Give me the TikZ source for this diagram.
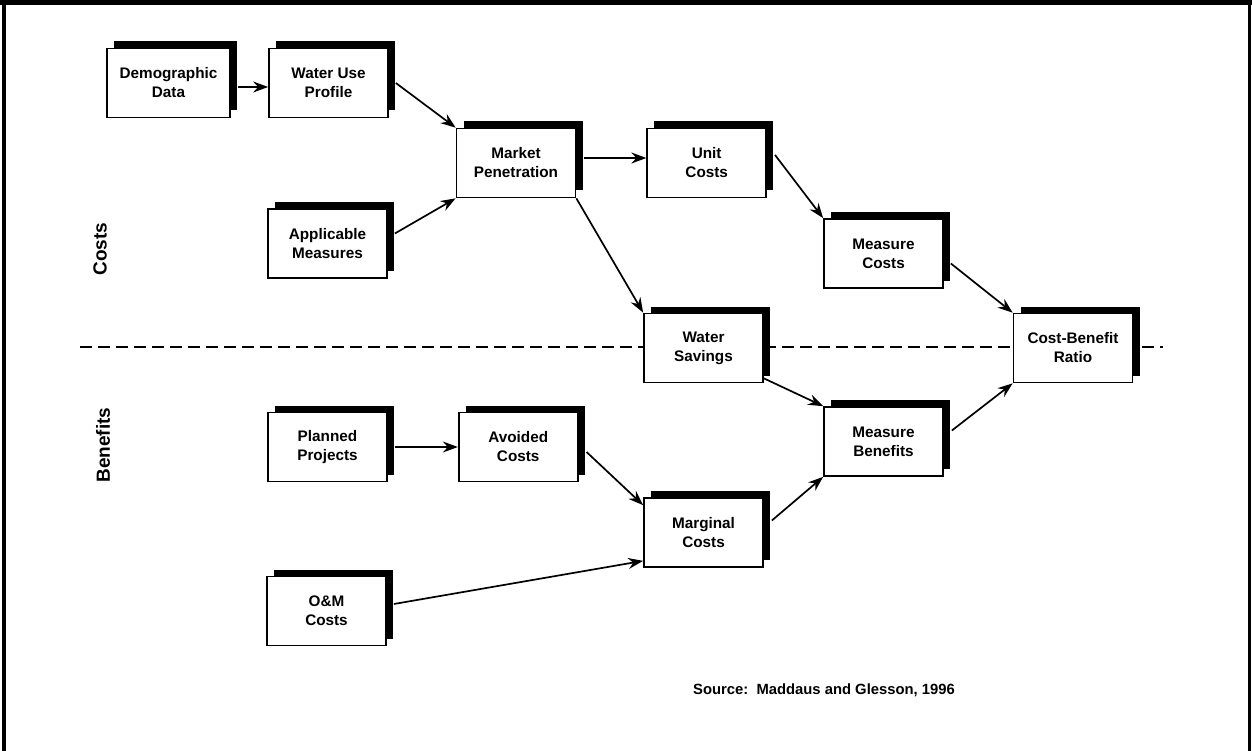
\documentclass[tikz,border=0pt]{standalone}
\usepackage{fontspec}
\setmainfont{Liberation Sans}
\usetikzlibrary{positioning,arrows.meta,shadows}

\begin{document}
\begin{tikzpicture}[x=1pt, y=-1pt, node distance=39pt and 70pt, line width=1.7pt,
    box/.style={draw, fill=white, minimum width=119pt, minimum height=69pt, inner sep=2pt,
    align=center, font=\fontsize{15.3}{19}\selectfont\bfseries,
    drop shadow={fill=black, opacity=1, shadow xshift=7pt, shadow yshift=7pt}},
    side/.style={rotate=90, font=\fontsize{19}{22}\selectfont\bfseries},
    >={Stealth[length=15pt, width=11pt, inset=5pt]}]
    \useasboundingbox (0,0) rectangle (1252,751);
    % frame and the costs/benefits divide
    \fill (0,0) rectangle (1252,5); \fill (2,0) rectangle (6,751); \fill (1248,0) rectangle (1251,751);
    \draw[line width=2pt, dash pattern=on 12pt off 6pt] (80,347) -- (1163,347);
    \node[side] (costs) at (100,249) {Costs};
    \node[side] (benefits) at (103,445) {Benefits};
    \node[box, minimum width=123pt] (demo) at (168.5,83) {Demographic\\Data};
    \node[box] (wuse) at (328.5,83) {Water Use\\Profile};
    \node[box] (appl) at (327.5,243.5) {Applicable\\Measures};
    \node[box] (mkt) at (516,163) {Market\\Penetration};
    \node[box, right=of mkt] (unit) {Unit\\Costs};
    \node[box] (mcost) at (883.5,253.5) {Measure\\Costs};
    \node[box] (wsav) at (703.5,348) {Water\\Savings};
    \node[box] (cbr) at (1073,348) {Cost-Benefit\\Ratio};
    \node[box] (mben) at (883.5,441.5) {Measure\\Benefits};
    \node[box] (plan) at (327.5,447) {Planned\\Projects};
    \node[box, right=of plan] (avoid) {Avoided\\Costs};
    \node[box] (marg) at (703.5,532.5) {Marginal\\Costs};
    \node[box] (om) at (326.5,611) {O\&M\\Costs};
    \node[font=\fontsize{14.8}{16}\selectfont\bfseries] (src) at (824,690) {Source:\ \ Maddaus and Glesson, 1996};
    \draw[->] ([xshift=7pt,yshift=-4pt]demo.east) -- ([yshift=-4pt]wuse.west);
    \draw[->] ([xshift=7pt]wuse.east) -- (mkt.north west); \draw[->] ([xshift=7pt,yshift=10pt]appl.east) -- (mkt.south west);
    \draw[->] ([xshift=8pt,yshift=5pt]mkt.east) -- ([yshift=5pt]unit.west); \draw[->] (mkt.south east) -- (wsav.north west);
    \draw[->] ([xshift=8pt,yshift=8pt]unit.east) -- (mcost.north west); \draw[->] ([xshift=7pt,yshift=-10pt]mcost.east) -- (cbr.north west);
    \draw[->] ([yshift=5pt]wsav.south east) -- (mben.north west); \draw[->] ([xshift=8pt,yshift=11pt]mben.east) -- (cbr.south west);
    \draw[->] ([xshift=7pt]plan.east) -- (avoid.west); \draw[->] ([xshift=8pt,yshift=-5pt]avoid.east) -- ([yshift=-8pt]marg.north west);
    \draw[->] ([xshift=8pt,yshift=12pt]marg.east) -- (mben.south west); \draw[->] ([xshift=7pt,yshift=7pt]om.east) -- ([yshift=7pt]marg.south west);
\end{tikzpicture}
\end{document}
